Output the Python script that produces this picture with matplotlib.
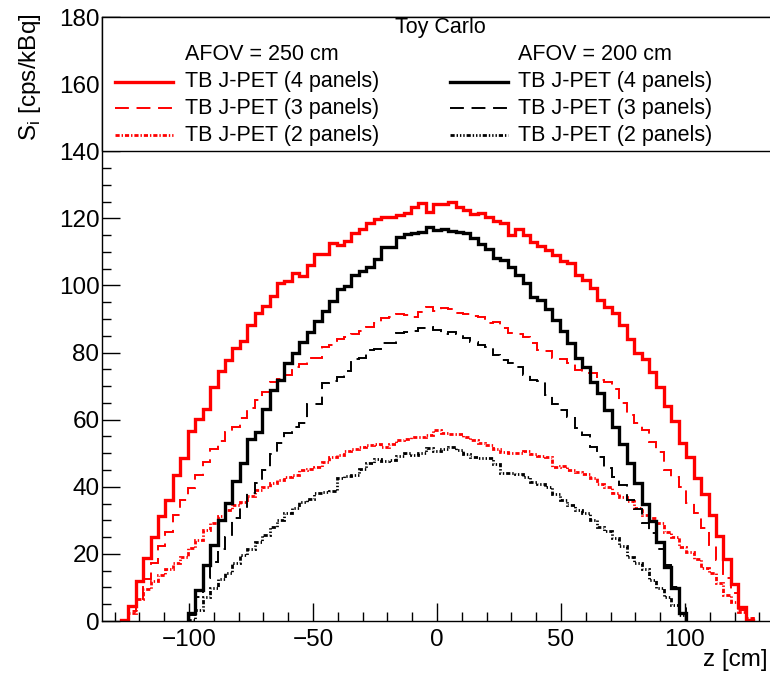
import matplotlib
matplotlib.use('Agg')
import matplotlib.pyplot as plt
from matplotlib.patches import Rectangle
from matplotlib.ticker import MultipleLocator
import numpy as np

# histogram binning (3 cm bins)
bin_width = 3.0
first_edge_250 = -127.5   # AFOV = 250 cm
first_edge_200 = -100.5   # AFOV = 200 cm

# AFOV = 250 cm, red
red_4panels = [0.3, 4.5, 11.9, 18.7, 24.9, 31.3, 36.2, 43.5, 48.7, 56.6,
               60.1, 63.3, 69.6, 74.4, 77.7, 81.4, 83.5, 88.1, 91.9, 93.8,
               97.0, 100.6, 101.3, 103.8, 102.9, 106.1, 109.3, 109.3, 112.7, 112.2,
               113.3, 115.5, 116.7, 118.5, 119.9, 120.3, 120.5, 121.1, 121.6, 123.5,
               124.6, 122.0, 124.2, 124.4, 124.9, 123.4, 122.4, 121.3, 121.6, 120.5,
               119.3, 118.5, 114.9, 116.7, 115.0, 113.0, 111.7, 110.5, 109.0, 107.3,
               106.6, 103.1, 101.6, 99.1, 95.6, 93.6, 91.9, 88.2, 83.9, 79.9,
               78.0, 74.3, 69.6, 64.1, 59.7, 53.1, 49.0, 42.5, 37.8, 31.6,
               25.3, 18.4, 10.9, 4.3, 0.3]
red_3panels = [0.3, 3.0, 6.5, 12.5, 17.3, 22.5, 26.5, 31.5, 36.1, 39.6,
               43.6, 47.4, 51.3, 53.5, 56.2, 57.9, 60.6, 63.6, 65.9, 68.1,
               71.3, 72.0, 73.3, 75.8, 76.5, 78.3, 78.5, 81.7, 82.2, 83.9,
               84.7, 85.5, 86.4, 87.7, 88.9, 90.2, 90.7, 91.5, 91.2, 90.7,
               92.2, 93.6, 92.3, 93.4, 93.1, 91.7, 91.4, 90.9, 90.5, 88.9,
               89.2, 87.2, 85.7, 85.4, 84.5, 82.7, 80.7, 80.5, 78.5, 78.0,
               76.8, 74.8, 74.0, 73.8, 71.8, 71.3, 69.0, 65.0, 61.4, 58.9,
               56.9, 53.4, 50.4, 45.0, 43.0, 40.0, 35.3, 32.3, 27.6, 22.6,
               18.2, 12.7, 8.2, 3.3, 0.8]
red_2panels = [0.4, 2.5, 6.5, 9.5, 12.0, 13.8, 15.4, 17.2, 19.2, 21.7,
               24.2, 27.2, 29.2, 31.2, 33.2, 34.6, 35.5, 37.3, 38.9, 39.9,
               41.0, 42.0, 43.0, 43.5, 45.0, 45.2, 46.0, 47.5, 49.0, 49.5,
               50.7, 51.4, 51.9, 52.4, 52.7, 51.9, 52.7, 53.9, 54.1, 54.7,
               54.9, 55.4, 56.9, 55.9, 55.7, 55.7, 54.9, 53.9, 53.1, 52.4,
               51.4, 50.4, 50.1, 50.1, 50.7, 49.8, 49.2, 49.0, 46.0, 46.2,
               45.0, 44.5, 43.8, 42.5, 40.8, 40.0, 38.0, 37.0, 35.8, 33.6,
               31.6, 30.6, 29.1, 26.6, 24.9, 22.1, 20.7, 18.4, 15.7, 14.2,
               11.2, 7.7, 5.8, 2.8, 0.8]

# AFOV = 200 cm, black
black_4panels = [2.3, 9.2, 16.7, 22.6, 30.1, 35.1, 41.7, 47.2, 54.1, 56.4,
                 63.1, 68.8, 71.8, 76.8, 79.9, 83.0, 86.2, 89.5, 92.5, 95.4,
                 98.8, 99.8, 103.1, 104.4, 105.4, 108.0, 111.5, 111.5, 114.3, 115.2,
                 115.7, 116.0, 117.3, 116.5, 116.7, 116.3, 116.0, 115.7, 114.0, 112.3,
                 111.0, 108.3, 107.7, 105.4, 103.1, 100.6, 96.6, 95.8, 92.9, 89.7,
                 86.5, 82.7, 78.3, 75.8, 71.3, 67.8, 62.9, 57.7, 52.7, 47.0,
                 41.2, 34.9, 29.9, 23.6, 16.2, 9.7, 2.5]
black_3panels = [1.8, 7.2, 12.7, 17.7, 21.6, 25.1, 30.6, 33.6, 38.0, 41.0,
                 45.0, 49.8, 52.9, 56.1, 57.9, 59.1, 64.6, 64.6, 70.8, 71.6,
                 72.8, 74.6, 78.0, 78.3, 80.7, 81.2, 82.7, 82.9, 85.9, 86.2,
                 86.5, 87.2, 87.5, 86.7, 85.5, 86.2, 85.5, 84.2, 83.2, 82.2,
                 81.7, 79.2, 77.8, 76.8, 75.8, 73.3, 71.8, 71.6, 67.3, 64.8,
                 62.9, 60.7, 57.4, 55.4, 51.9, 48.8, 45.5, 43.0, 40.5, 36.0,
                 33.3, 29.1, 26.1, 21.6, 16.7, 10.2, 4.8]
black_2panels = [0.3, 3.3, 7.2, 9.7, 12.4, 14.2, 17.2, 19.7, 21.6, 23.6,
                 25.6, 27.9, 30.1, 32.1, 33.6, 35.6, 36.5, 38.0, 38.5, 38.8,
                 42.5, 43.2, 43.5, 45.2, 47.0, 48.2, 47.8, 48.0, 49.2, 50.0,
                 49.5, 50.1, 51.7, 50.7, 51.4, 51.9, 51.1, 49.8, 48.8, 48.5,
                 48.5, 46.8, 44.0, 44.0, 43.8, 43.0, 41.5, 40.8, 39.8, 37.8,
                 36.0, 34.6, 33.1, 32.3, 30.1, 28.0, 26.9, 24.6, 22.3, 19.0,
                 17.4, 15.4, 12.2, 9.7, 7.2, 4.8, 1.8]

labels = ['TB J-PET (4 panels)', 'TB J-PET (3 panels)', 'TB J-PET (2 panels)']


def main():
    plt.rcParams['font.family'] = ['Liberation Sans', 'DejaVu Sans']
    plt.rcParams['lines.scale_dashes'] = False

    fig = plt.figure(figsize=(7.7, 6.76), dpi=100)
    ax = fig.add_axes([102.2 / 770, 55 / 676, 669.6 / 770, 604 / 676])

    edges250 = first_edge_250 + bin_width * np.arange(len(red_4panels) + 1)
    edges200 = first_edge_200 + bin_width * np.arange(len(black_4panels) + 1)

    # line styles: solid / dashed / dash-dot-dot (ROOT like)
    st_solid = dict(lw=2.4, ls='-')
    st_dash = dict(lw=1.4, ls=(0, (10, 5.5)))
    st_dot_red = dict(lw=2.0, ls=(0, (3, 1.4, 1, 1.4)))
    st_dot_blk = dict(lw=2.0, ls=(0, (3, 1.4, 1, 1.4, 1, 1.4, 1, 1.4)))

    ax.stairs(red_4panels, edges250, baseline=0, color='red', **st_solid)
    ax.stairs(red_3panels, edges250, baseline=0, color='red', **st_dash)
    ax.stairs(red_2panels, edges250, baseline=0, color='red', **st_dot_red)
    ax.stairs(black_4panels, edges200, baseline=0, color='black', **st_solid)
    ax.stairs(black_3panels, edges200, baseline=0, color='black', **st_dash)
    ax.stairs(black_2panels, edges200, baseline=0, color='black', **st_dot_blk)

    ax.set_xlim(-135, 135)
    ax.set_ylim(0, 180)
    ax.xaxis.set_major_locator(MultipleLocator(50))
    ax.xaxis.set_minor_locator(MultipleLocator(10))
    ax.yaxis.set_major_locator(MultipleLocator(20))
    ax.yaxis.set_minor_locator(MultipleLocator(5))
    ax.tick_params(which='both', direction='in', top=False, right=False,
                   width=1, labelsize=17.5)
    ax.tick_params(which='major', length=13)
    ax.tick_params(which='minor', length=6.5)
    ax.tick_params(axis='y', pad=2)
    ax.tick_params(axis='x', pad=6)
    for s in ax.spines.values():
        s.set_linewidth(1)

    fig.text(43 / 770, 1 - 13 / 676, r'S$_{\mathregular{i}}$ [cps/kBq]',
             rotation=90, ha='right', va='top', fontsize=17.5)
    fig.text(768 / 770, 16 / 676, 'z [cm]', ha='right', va='center',
             fontsize=17.5)

    # legend box
    ax.add_patch(Rectangle((0, 140 / 180), 1, 40 / 180, transform=ax.transAxes,
                           facecolor='white', edgecolor='black', lw=1,
                           zorder=3, clip_on=False))
    ax.text(0.505, 0.983, 'Toy Carlo', transform=ax.transAxes, ha='center',
            va='center', fontsize=15.5, zorder=4)
    ax.text(0.1236, 0.9387, 'AFOV = 250 cm', transform=ax.transAxes,
            va='center', fontsize=15.5, zorder=4)
    ax.text(0.621, 0.9387, 'AFOV = 200 cm', transform=ax.transAxes,
            va='center', fontsize=15.5, zorder=4)

    rows = [0.8924, 0.8493, 0.8046]
    red_styles = [st_solid, st_dash, st_dot_red]
    blk_styles = [st_solid, st_dash, st_dot_blk]
    for y, lab, rs, bs in zip(rows, labels, red_styles, blk_styles):
        ax.plot([0.0191, 0.1057], [y, y], color='red', transform=ax.transAxes,
                zorder=4, clip_on=False, **rs)
        ax.text(0.1236, y, lab, transform=ax.transAxes, va='center',
                fontsize=15.5, zorder=4)
        ax.plot([0.5194, 0.606], [y, y], color='black', transform=ax.transAxes,
                zorder=4, clip_on=False, **bs)
        ax.text(0.621, y, lab, transform=ax.transAxes, va='center',
                fontsize=15.5, zorder=4)

    fig.savefig('out.png', dpi=100)


if __name__ == "__main__":
    main()
